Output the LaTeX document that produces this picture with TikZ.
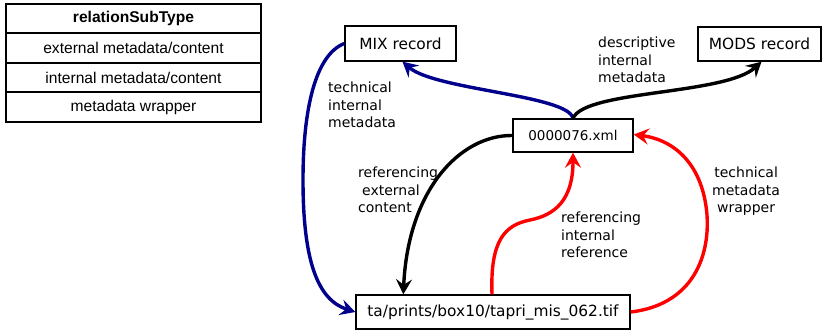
\documentclass[tikz,border=0pt]{standalone}
\usepackage{fontspec}
\setmainfont{Liberation Sans}
\newfontfamily\labelfont{DejaVu Sans}
\usetikzlibrary{arrows.meta}
\definecolor{navyline}{RGB}{0,0,140}
\definecolor{redline}{RGB}{255,0,0}

\begin{document}
\begin{tikzpicture}[x=1pt,y=-1pt,
  tablecell/.style={draw, line width=1pt, minimum width=254pt, minimum height=28.5pt,
    inner sep=0pt, anchor=north west, font=\fontsize{15.6}{18}\selectfont},
  recbox/.style={draw, line width=1.4pt, inner sep=0pt,
    font=\labelfont\fontsize{15.4}{18}\selectfont},
  lbl/.style={inner sep=0pt, anchor=north west, align=left,
    font=\labelfont\fontsize{14}{17.5}\selectfont},
  link/.style={line width=3.4pt, -{Stealth[length=15pt,width=16pt,inset=5.5pt]}},
]
\useasboundingbox (0,0) rectangle (822,331);

% legend table
\node[tablecell] (r0) at (6,4) {\bfseries relationSubType};
\node[tablecell] (r1) at (r0.south west) {external metadata/content};
\node[tablecell] (r2) at (r1.south west) {internal metadata/content};
\node[tablecell] (r3) at (r2.south west) {metadata wrapper};
\draw[line width=1.6pt] (r0.north west) rectangle (r3.south east);

% records
\node[recbox, minimum width=111pt, minimum height=35pt] (mix) at (400.5,43.5) {MIX record};
\node[recbox, minimum width=123pt, minimum height=34pt] (mods) at (759.5,44) {MODS record};
\node[recbox, minimum width=120pt, minimum height=33pt,
      font=\labelfont\fontsize{13.5}{16}\selectfont] (xml) at (573,135.5) {0000076.xml};
\node[recbox, minimum width=274pt, minimum height=34pt] (tif) at (493,312) {ta/prints/box10/tapri\_mis\_062.tif};

% relations
\draw[link, navyline] (xml.north) .. controls (568,95) and (435,90) .. ([xshift=2pt]mix.south);
\draw[link, black] (xml.north) .. controls (585,90) and (725,95) .. ([xshift=2pt]mods.south);
\draw[link, navyline] (mix.west) .. controls (315,55) and (303,110) .. (303,180)
  .. controls (303,262) and (318,300) .. (tif.west);
\draw[link, black] (xml.west) .. controls (460,135) and (408,190) .. ([xshift=48pt]tif.north west);
\draw[link, redline] ([xshift=-1pt]tif.north) .. controls (490,240) and (505,225) .. (530,220)
  .. controls (555,215) and (573,200) .. (xml.south);
\draw[link, redline] (tif.east) .. controls (690,305) and (710,260) .. (707,215)
  .. controls (703,165) and (675,140) .. ([yshift=1pt]xml.east);

% relation labels
\node[lbl] (l1) at (328,82) {technical\\internal\\metadata};
\node[lbl] (l2) at (598,37) {descriptive\\internal\\metadata};
\node[lbl] (l3) at (358,167) {referencing\\\hspace*{4pt}external\\content};
\node[lbl] (l4) at (561,212) {referencing\\internal\\reference};
\node[lbl, align=center] (l5) at (712,167) {technical\\metadata\\wrapper};
\end{tikzpicture}
\end{document}
